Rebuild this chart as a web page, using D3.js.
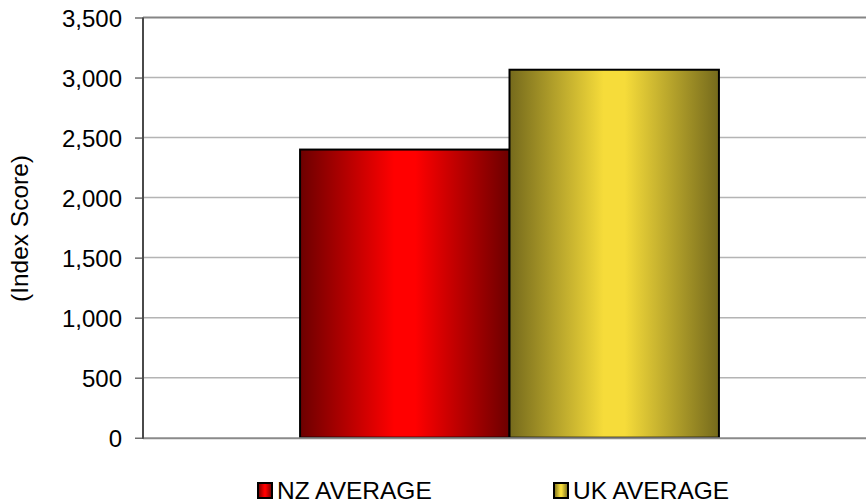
<!DOCTYPE html>
<html>
<head>
<meta charset="utf-8">
<script src="https://cdn.jsdelivr.net/npm/d3@7"></script>
<style>
  html, body { margin: 0; padding: 0; background: #fff; }
  svg { display: block; }
  text { font-family: "Liberation Sans", Arial, Helvetica, sans-serif; fill: #000; }
</style>
</head>
<body>
<svg id="chart" width="866" height="504"></svg>
<script>
const categories = [""];
const seriesNames = ["NZ AVERAGE", "UK AVERAGE"];
const seriesValues = [2400, 3065];
const yTicks = [0, 500, 1000, 1500, 2000, 2500, 3000, 3500];
const yTitle = "(Index Score)";
const seriesDark = ["#6c0000", "#756a1c"];
const seriesBright = ["#ff0000", "#f6dc3a"];

const svg = d3.select("#chart");
const plotLeft = 143, plotRight = 876, plotTop = 17.5, plotBottom = 437.7;

const y = d3.scaleLinear().domain([0, 3500]).range([plotBottom, plotTop]);
const x0 = d3.scaleBand().domain(categories).range([plotLeft, plotRight]).padding(0);
const x1 = d3.scaleBand().domain(seriesNames).range([0, x0.bandwidth()]).paddingInner(0).paddingOuter(0.75);

const defs = svg.append("defs");
seriesNames.forEach((s, i) => {
  const g = defs.append("linearGradient").attr("id", "grad" + i)
    .attr("x1", "0%").attr("x2", "100%").attr("y1", "0%").attr("y2", "0%");
  g.append("stop").attr("offset", "0%").attr("stop-color", seriesDark[i]);
  g.append("stop").attr("offset", "45%").attr("stop-color", seriesBright[i]);
  g.append("stop").attr("offset", "55%").attr("stop-color", seriesBright[i]);
  g.append("stop").attr("offset", "100%").attr("stop-color", seriesDark[i]);
});

// gridlines
svg.append("g").selectAll("line").data(yTicks.filter(d => d > 0 && d < 3500)).join("line")
  .attr("x1", plotLeft).attr("x2", 866)
  .attr("y1", d => y(d)).attr("y2", d => y(d))
  .attr("stroke", "#b4b4b4").attr("stroke-width", 1.5);
// top border line
svg.append("line").attr("x1", plotLeft).attr("x2", 866).attr("y1", y(3500)).attr("y2", y(3500))
  .attr("stroke", "#858585").attr("stroke-width", 2);

// bars
const data = seriesNames.map((s, i) => ({ cat: categories[0], series: s, value: seriesValues[i], i }));
svg.append("g").selectAll("rect").data(data).join("rect")
  .attr("x", d => x0(d.cat) + x1(d.series))
  .attr("width", x1.bandwidth())
  .attr("y", d => y(d.value))
  .attr("height", d => y(0) - y(d.value))
  .attr("fill", d => "url(#grad" + d.i + ")")
  .attr("stroke", "#000").attr("stroke-width", 2);

// bottom axis line
svg.append("line").attr("x1", plotLeft).attr("x2", 866).attr("y1", y(0) + 0.5).attr("y2", y(0) + 0.5)
  .attr("stroke", "#8a8a8a").attr("stroke-width", 2);

// y axis
const yAxis = d3.axisLeft(y).tickValues(yTicks).tickSize(8).tickPadding(13)
  .tickFormat(d3.format(","));
const gy = svg.append("g").attr("transform", `translate(${plotLeft},0)`).call(yAxis);
gy.select(".domain").attr("stroke", "#4a4a4a").attr("stroke-width", 2)
  .attr("d", `M0,${plotTop}V${plotBottom + 1}`);
gy.selectAll(".tick line").attr("stroke", "#4a4a4a").attr("stroke-width", 1.2);
gy.selectAll(".tick text").attr("font-size", 24)
  .attr("font-family", '"Liberation Sans", Arial, sans-serif').attr("fill", "#000")
  .attr("dy", "0.38em");

// y title
svg.append("text").attr("transform", `translate(28,228.5) rotate(-90)`)
  .attr("text-anchor", "middle").attr("font-size", 24.5).text(yTitle);

// legend
const legendX = [257, 553];
const lg = svg.append("g").selectAll("g").data(seriesNames).join("g")
  .attr("transform", (d, i) => `translate(${legendX[i]},482)`);
lg.append("rect").attr("x", 1).attr("y", 1).attr("width", 14).attr("height", 15)
  .attr("fill", (d, i) => "url(#grad" + i + ")").attr("stroke", "#000").attr("stroke-width", 2);
lg.append("text").attr("x", 20).attr("y", 17).attr("font-size", 24.5).text(d => d);
</script>
</body>
</html>
